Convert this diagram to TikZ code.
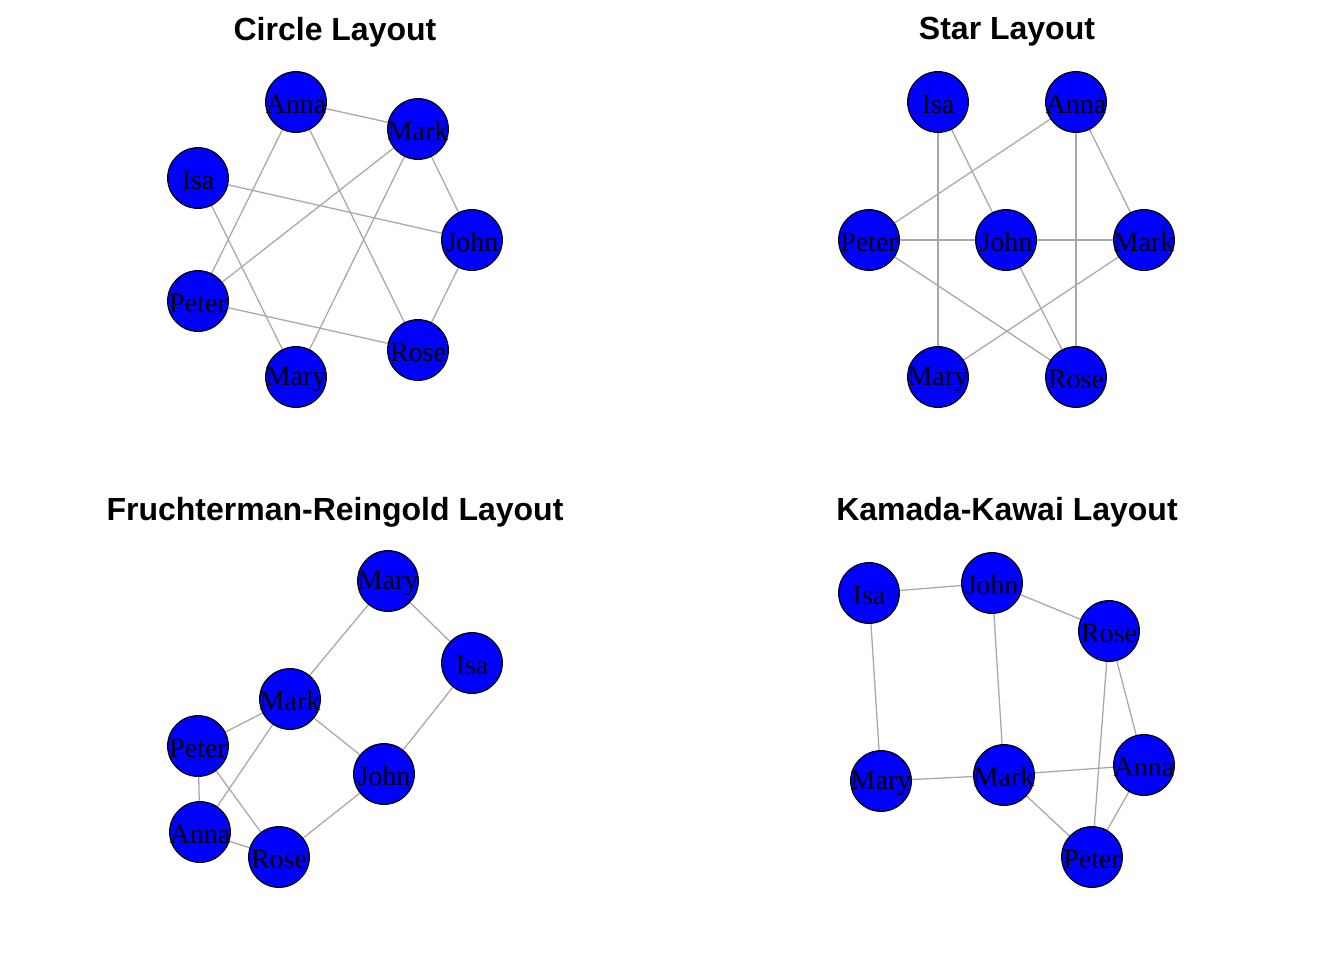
\documentclass[tikz,border=0pt]{standalone}
\usepackage{fontspec}
\setmainfont{Liberation Serif}
\newfontfamily\titlefont{Liberation Sans}
\begin{document}
\begin{tikzpicture}[x=0.75pt,y=-0.75pt,
  vnode/.style={circle,draw=black,line width=0.9pt,fill=blue,minimum size=45.5pt,inner sep=0pt},
  vlabel/.style={inner sep=0pt,font=\fontsize{21}{21}\selectfont},
  edge/.style={draw=black!34,line width=0.95pt},
  ttl/.style={font=\titlefont\bfseries\fontsize{24}{24}\selectfont}]
\useasboundingbox (0,0) rectangle (1344,960);
\fill[white] (0,0) rectangle (1344,960);
% titles
\node[ttl] (t1) at (335,32) {Circle Layout};
\node[ttl] (t2) at (1007,32) {Star Layout};
\node[ttl] (t3) at (335,512) {Fruchterman-Reingold Layout};
\node[ttl] (t4) at (1007,512) {Kamada-Kawai Layout};
% coordinates circle
\coordinate (cAnna) at (296,102);
\coordinate (cMark) at (418,129);
\coordinate (cIsa) at (198,178);
\coordinate (cJohn) at (472,240);
\coordinate (cPeter) at (198,301);
\coordinate (cRose) at (418,350);
\coordinate (cMary) at (296,377);
% star
\coordinate (sIsa) at (938,102);
\coordinate (sAnna) at (1076,102);
\coordinate (sPeter) at (869,240);
\coordinate (sJohn) at (1006,240);
\coordinate (sMark) at (1144,240);
\coordinate (sMary) at (938,377);
\coordinate (sRose) at (1076,377);
% FR
\coordinate (fMary) at (388,581);
\coordinate (fIsa) at (472,663);
\coordinate (fMark) at (290,699);
\coordinate (fPeter) at (198,746);
\coordinate (fJohn) at (384,774);
\coordinate (fAnna) at (200,832);
\coordinate (fRose) at (279,857);
% KK
\coordinate (kIsa) at (869,593);
\coordinate (kJohn) at (992,583);
\coordinate (kRose) at (1109,631);
\coordinate (kMary) at (881,781);
\coordinate (kMark) at (1004,775);
\coordinate (kAnna) at (1144,765);
\coordinate (kPeter) at (1092,857);
% edges
\foreach \p in {c,s,f,k}{
  \draw[edge] (\p Anna) -- (\p Mark);
  \draw[edge] (\p Anna) -- (\p Peter);
  \draw[edge] (\p Anna) -- (\p Rose);
  \draw[edge] (\p Mark) -- (\p Peter);
  \draw[edge] (\p Mark) -- (\p Mary);
  \draw[edge] (\p Mark) -- (\p John);
  \draw[edge] (\p Isa) -- (\p John);
  \draw[edge] (\p Isa) -- (\p Mary);
  \draw[edge] (\p Peter) -- (\p Rose);
  \draw[edge] (\p Rose) -- (\p John);
}
% nodes
\foreach \p in {c,s,f,k}{
  \foreach \n in {Anna,Mark,Isa,John,Peter,Rose,Mary}{
    \node[vnode] (\p\n N) at (\p\n) {};
    \node[vlabel] (\p\n L) at ([yshift=-1.5pt]\p\n) {\n};
  }
}
\end{tikzpicture}
\end{document}
